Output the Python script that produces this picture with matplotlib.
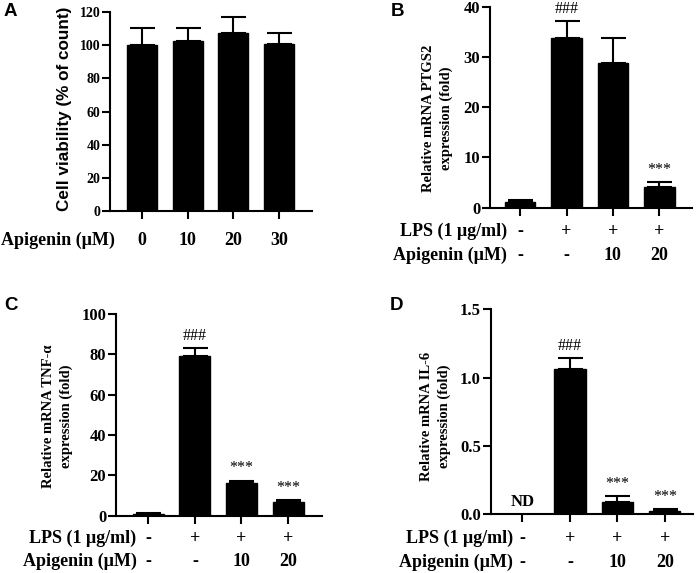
import matplotlib
matplotlib.use('Agg')
import matplotlib.pyplot as plt
import numpy as np

# ---------------- data ----------------
a_conc = ['0', '10', '20', '30']
a_vals = [100.0, 102.5, 107.0, 100.5]
a_err = [10.5, 8.0, 10.0, 7.0]

lps_row = ['-', '+', '+', '+']
api_row = ['-', '-', '10', '20']

b_vals = [1.1, 33.7, 28.8, 4.0]
b_err = [0.3, 3.5, 4.9, 1.0]
b_marks = ['', '###', '', '***']

c_vals = [0.9, 79.2, 16.0, 6.6]
c_err = [0.3, 3.8, 1.3, 1.1]
c_marks = ['', '###', '***', '***']

d_vals = [np.nan, 1.06, 0.09, 0.022]
d_err = [0.0, 0.085, 0.044, 0.014]
d_marks = ['ND', '###', '***', '***']

a_yticks = [0, 20, 40, 60, 80, 100, 120]
b_yticks = [0, 10, 20, 30, 40]
c_yticks = [0, 20, 40, 60, 80, 100]
d_yticks = [0.0, 0.5, 1.0, 1.5]

SERIF = ['Liberation Serif', 'DejaVu Serif']
SANS = ['Liberation Sans', 'DejaVu Sans']

W, H = 699, 573
fig = plt.figure(figsize=(W / 100, H / 100), dpi=100)


def px_axes(l, t, r, b):
    return fig.add_axes([l / W, 1 - b / H, (r - l) / W, (b - t) / H])


def pt(px):
    return px * 0.72


def draw_panel(ax, vals, err, ylim, yticks, yfmt, xlim, tick_size, bw=0.66):
    x = np.arange(len(vals))
    v = np.array(vals, dtype=float)
    e = np.array(err, dtype=float)
    mask = ~np.isnan(v)
    ax.bar(x[mask], v[mask], width=bw, color='black', edgecolor='black', zorder=2)
    ax.errorbar(x[mask], v[mask], yerr=[np.zeros(mask.sum()), e[mask]], fmt='none',
                ecolor='black', elinewidth=1.5, capsize=9, capthick=1.5, zorder=1)
    ax.set_xlim(*xlim)
    ax.set_ylim(*ylim)
    ax.set_yticks(yticks)
    ax.set_yticklabels([yfmt.format(t) for t in yticks], fontfamily=SERIF,
                       fontweight='bold', fontsize=tick_size)
    ax.set_xticks(x)
    ax.set_xticklabels([])
    for s in ['top', 'right']:
        ax.spines[s].set_visible(False)
    for s in ['left', 'bottom']:
        ax.spines[s].set_linewidth(1.5)
    ax.tick_params(axis='both', direction='out', length=6, width=1.5, pad=1)
    return x


def row(ax, label, items, dy_px, dx_px, size=13):
    ax.annotate(label, xy=(0, 0), xycoords=('data', 'axes fraction'),
                xytext=(pt(dx_px), -pt(dy_px)), textcoords='offset points',
                ha='right', va='center', fontfamily=SERIF, fontweight='bold',
                fontsize=size, annotation_clip=False)
    for i, s in enumerate(items):
        ax.annotate(s, xy=(i, 0), xycoords=('data', 'axes fraction'),
                    xytext=(0, -pt(dy_px)), textcoords='offset points',
                    ha='center', va='center', fontfamily=SERIF, fontweight='bold',
                    fontsize=size, annotation_clip=False)


def marks(ax, vals, err, labels):
    for i, s in enumerate(labels):
        if not s or s == 'ND':
            continue
        top = vals[i] + err[i]
        ax.annotate(s, xy=(i, top), xytext=(0, 3), textcoords='offset points',
                    ha='center', va='bottom', fontfamily=SERIF, fontsize=11.5)


# ---------------- Panel A ----------------
axA = px_axes(110, 11.7, 312, 211.5)
draw_panel(axA, a_vals, a_err, (0, 120), a_yticks, '{:d}', (-0.70, 3.72), 10)
row(axA, 'Apigenin (μM)', a_conc, 29, -27, size=13)
fig.text(65 / W, 1 - 108.7 / H, 'Cell viability (% of count)', rotation=90,
         ha='center', va='center', fontfamily=SANS, fontweight='bold', fontsize=12.3)

# ---------------- Panel B ----------------
axB = px_axes(490, 6.7, 691.7, 207.5)
draw_panel(axB, b_vals, b_err, (0, 40), b_yticks, '{:d}', (-0.65, 3.7), 12)
row(axB, 'LPS (1 μg/ml)', lps_row, 24, -13.3)
row(axB, 'Apigenin (μM)', api_row, 47.5, -13.3)
marks(axB, b_vals, b_err, b_marks)
fig.text(437.3 / W, 1 - 118.5 / H, 'Relative mRNA PTGS2\nexpression (fold)', rotation=90,
         ha='center', va='center', fontfamily=SERIF, fontweight='bold', fontsize=10.5,
         linespacing=1.45, multialignment='center')

# ---------------- Panel C ----------------
axC = px_axes(116, 314, 321.7, 515.5)
draw_panel(axC, c_vals, c_err, (0, 100), c_yticks, '{:d}', (-0.69, 3.72), 12)
row(axC, 'LPS (1 μg/ml)', lps_row, 22.8, -11.6)
row(axC, 'Apigenin (μM)', api_row, 46.2, -11.6)
marks(axC, c_vals, c_err, c_marks)
fig.text(57.5 / W, 1 - 416 / H, 'Relative mRNA TNF-α\nexpression (fold)', rotation=90,
         ha='center', va='center', fontfamily=SERIF, fontweight='bold', fontsize=10.5,
         linespacing=1.45, multialignment='center')

# ---------------- Panel D ----------------
axD = px_axes(490.7, 309.3, 693.3, 514)
draw_panel(axD, d_vals, d_err, (0, 1.5), d_yticks, '{:.1f}', (-0.67, 3.6), 12)
row(axD, 'LPS (1 μg/ml)', lps_row, 24.3, -9.4)
row(axD, 'Apigenin (μM)', api_row, 48.7, -9.4)
marks(axD, d_vals, d_err, d_marks)
axD.annotate('ND', xy=(0, 0), xytext=(0, 3), textcoords='offset points',
             ha='center', va='bottom', fontfamily=SERIF, fontweight='bold', fontsize=12)
fig.text(435.8 / W, 1 - 416 / H, 'Relative mRNA IL-6\nexpression (fold)', rotation=90,
         ha='center', va='center', fontfamily=SERIF, fontweight='bold', fontsize=10.5,
         linespacing=1.45, multialignment='center')

# ---------------- Panel letters ----------------
for letter, (cx, cy) in zip('ABCD', [(10.3, 12), (397, 11.7), (10.8, 305), (396.7, 305)]):
    fig.text(cx / W, 1 - cy / H, letter, ha='center', va='center', fontfamily=SANS,
             fontweight='bold', fontsize=13.5)

fig.savefig('out.png', dpi=100)
